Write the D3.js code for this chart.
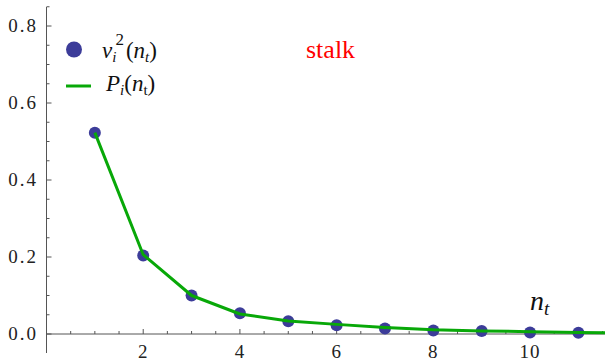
<!DOCTYPE html>
<html>
<head>
<meta charset="utf-8">
<script src="https://cdn.jsdelivr.net/npm/d3@7"></script>
</head>
<body style="margin:0">
<div id="wrap"></div>
<script>
// measured v_i^2 (dots) and model P_i (line)
var nVals = [1, 2, 3, 4, 5, 6, 7, 8, 9, 10, 11];
var vSquared = [0.523, 0.204, 0.100, 0.054, 0.033, 0.023, 0.014, 0.009, 0.008, 0.004, 0.003];
var lineN = [1, 2, 3, 4, 5, 6, 7, 8, 9, 10, 11, 11.6];
var pVals = [0.523, 0.206, 0.100, 0.052, 0.034, 0.025, 0.017, 0.011, 0.008, 0.006, 0.004, 0.003];
var xTicks = [2, 4, 6, 8, 10];
var yTicks = [0.0, 0.2, 0.4, 0.6, 0.8];

var W = 605, H = 363;
var SERIF = "'Liberation Serif'";
var svg = d3.select("#wrap").append("svg")
  .attr("width", W).attr("height", H)
  .style("font-family", SERIF);

var x = d3.scaleLinear().domain([0, 11.55]).range([46.5, 605]);
var y = d3.scaleLinear().domain([0, 0.8]).range([334, 26]);

var axisColor = "#555";

// axes lines
svg.append("line")
  .attr("x1", x(0)).attr("x2", x(0))
  .attr("y1", 7).attr("y2", 353)
  .attr("stroke", axisColor).attr("stroke-width", 1);
svg.append("line")
  .attr("x1", x(0)).attr("x2", W)
  .attr("y1", y(0)).attr("y2", y(0))
  .attr("stroke", axisColor).attr("stroke-width", 1);

// y ticks, minor every 0.05
var yMinor = d3.range(0, 0.86, 0.05);
svg.selectAll(".ytick").data(yMinor).enter().append("line")
  .attr("x1", x(0)).attr("x2", function(d){ return x(0) + (Math.abs(d * 5 - Math.round(d * 5)) < 1e-6 ? 5 : 3); })
  .attr("y1", function(d){ return y(d); }).attr("y2", function(d){ return y(d); })
  .attr("stroke", axisColor).attr("stroke-width", 1);

// x ticks, minor every 0.5
var xMinor = d3.range(0.5, 11.6, 0.5);
svg.selectAll(".xtick").data(xMinor).enter().append("line")
  .attr("x1", function(d){ return x(d); }).attr("x2", function(d){ return x(d); })
  .attr("y1", y(0)).attr("y2", function(d){ return y(0) - (d % 2 === 0 ? 5 : 3); })
  .attr("stroke", axisColor).attr("stroke-width", 1);

svg.selectAll(".ylab").data(yTicks).enter().append("text")
  .attr("x", 38).attr("y", function(d){ return y(d) + 6; })
  .attr("text-anchor", "end")
  .attr("font-size", 19).attr("letter-spacing", 2).attr("fill", "#222")
  .style("font-family", SERIF)
  .text(function(d){ return d.toFixed(1); });

svg.selectAll(".xlab").data(xTicks).enter().append("text")
  .attr("x", function(d){ return x(d); }).attr("y", 358)
  .attr("text-anchor", "middle")
  .attr("font-size", 19).attr("letter-spacing", 1).attr("fill", "#222")
  .style("font-family", SERIF)
  .text(function(d){ return d; });

// dots
svg.selectAll(".dot").data(nVals).enter().append("circle")
  .attr("cx", function(d){ return x(d); })
  .attr("cy", function(d, i){ return y(vSquared[i]); })
  .attr("r", 6)
  .attr("fill", "#3c3c99");

// model line
var line = d3.line()
  .x(function(d){ return x(d[0]); })
  .y(function(d){ return y(d[1]); });

svg.append("path")
  .datum(lineN.map(function(n, i){ return [n, pVals[i]]; }))
  .attr("d", line)
  .attr("fill", "none")
  .attr("stroke", "#08a808")
  .attr("stroke-width", 3)
  .attr("stroke-linejoin", "round");

// legend
svg.append("circle").attr("cx", 74).attr("cy", 49.5).attr("r", 8).attr("fill", "#3c3c99");
var t1 = svg.append("text").attr("x", 102).attr("y", 58)
  .attr("font-size", 23).attr("font-style", "italic").attr("fill", "#111")
  .style("font-family", SERIF);
t1.append("tspan").text("v");
t1.append("tspan").attr("font-size", 15).attr("dy", 4).text("i");
t1.append("tspan").attr("font-size", 17).attr("font-style", "normal").attr("dx", -1).attr("dy", -17).text("2");
t1.append("tspan").attr("dy", 13).attr("dx", 2).attr("font-style", "normal").text("(");
t1.append("tspan").text("n");
t1.append("tspan").attr("font-size", 15).attr("dy", 4).text("t");
t1.append("tspan").attr("dy", -4).attr("font-style", "normal").text(")");

svg.append("line").attr("x1", 66).attr("x2", 91).attr("y1", 86).attr("y2", 86)
  .attr("stroke", "#08a808").attr("stroke-width", 3);
var t2 = svg.append("text").attr("x", 106).attr("y", 91)
  .attr("font-size", 23).attr("font-style", "italic").attr("fill", "#111")
  .style("font-family", SERIF);
t2.append("tspan").text("P");
t2.append("tspan").attr("font-size", 15).attr("dy", 4).text("i");
t2.append("tspan").attr("dy", -4).attr("font-style", "normal").text("(");
t2.append("tspan").text("n");
t2.append("tspan").attr("font-size", 15).attr("font-style", "normal").attr("dy", 4).text("t");
t2.append("tspan").attr("dy", -4).attr("font-style", "normal").text(")");

// annotations
svg.append("text").attr("x", 306).attr("y", 58)
  .attr("font-size", 26).attr("fill", "#f00")
  .style("font-family", SERIF)
  .text("stalk");

var t3 = svg.append("text").attr("x", 530).attr("y", 310)
  .attr("font-size", 28).attr("font-style", "italic").attr("fill", "#111")
  .style("font-family", SERIF);
t3.append("tspan").text("n");
t3.append("tspan").attr("font-size", 19).attr("dy", 5).text("t");
</script>
</body>
</html>
